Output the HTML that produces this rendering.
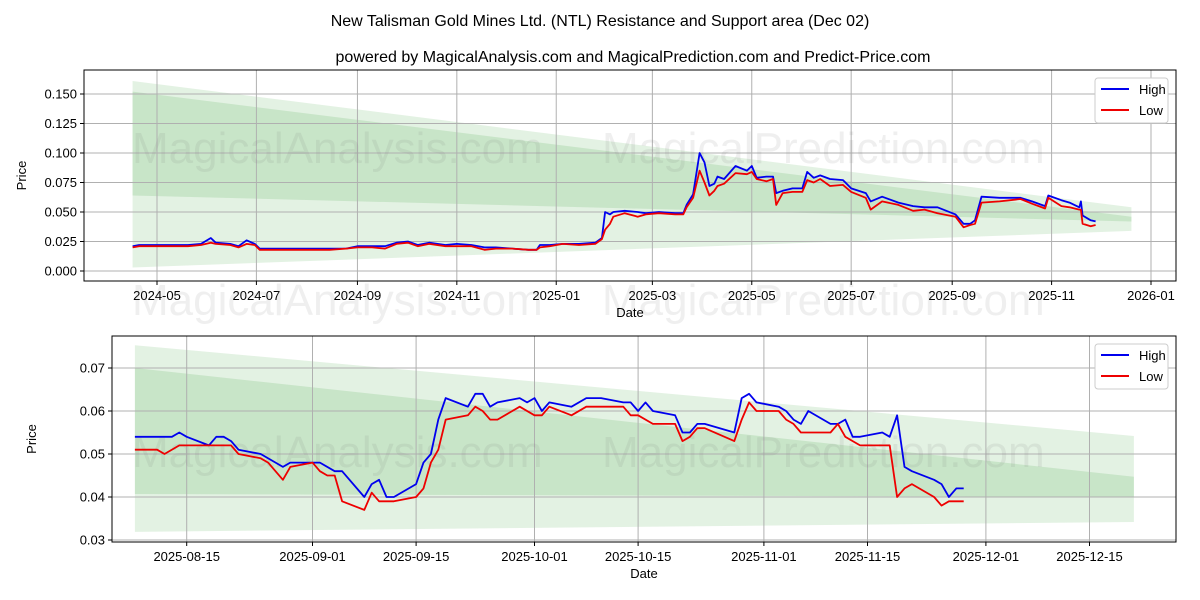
<!DOCTYPE html>
<html><head><meta charset="utf-8">
<style>
body{margin:0;background:#fff;}
svg{display:block;font-family:"Liberation Sans","DejaVu Sans",sans-serif;}
</style></head>
<body>
<svg id="chart" width="1200" height="600" viewBox="0 0 1200 600">
<rect width="1200" height="600" fill="#fff"/>
<text x="600" y="26" text-anchor="middle" font-size="16">New Talisman Gold Mines Ltd. (NTL) Resistance and Support area (Dec 02)</text>
<text x="633" y="62" text-anchor="middle" font-size="16">powered by MagicalAnalysis.com and MagicalPrediction.com and Predict-Price.com</text>
</svg>
<script>
// ---------- top chart data ----------
const topDates=["2024-04-16","2024-04-20","2024-04-25","2024-05-01","2024-05-10","2024-05-20","2024-05-28","2024-06-03","2024-06-06","2024-06-15","2024-06-20","2024-06-25","2024-06-30","2024-07-03","2024-07-15","2024-07-25","2024-08-05","2024-08-15","2024-08-25","2024-09-01","2024-09-10","2024-09-18","2024-09-25","2024-10-02","2024-10-08","2024-10-15","2024-10-25","2024-11-01","2024-11-10","2024-11-18","2024-11-25","2024-12-05","2024-12-15","2024-12-20","2024-12-22","2024-12-28","2025-01-05","2025-01-15","2025-01-25","2025-01-29","2025-01-31","2025-02-03","2025-02-05","2025-02-12","2025-02-20","2025-02-25","2025-03-05","2025-03-15","2025-03-20","2025-03-22","2025-03-26","2025-03-30","2025-04-02","2025-04-05","2025-04-08","2025-04-10","2025-04-14","2025-04-21","2025-04-28","2025-05-01","2025-05-04","2025-05-10","2025-05-14","2025-05-16","2025-05-20","2025-05-26","2025-06-01","2025-06-04","2025-06-08","2025-06-12","2025-06-18","2025-06-26","2025-07-01","2025-07-10","2025-07-13","2025-07-20","2025-07-30","2025-08-08","2025-08-15","2025-08-23","2025-09-03","2025-09-08","2025-09-12","2025-09-15","2025-09-19","2025-09-30","2025-10-13","2025-10-20","2025-10-28","2025-10-30","2025-11-07","2025-11-12","2025-11-18","2025-11-19","2025-11-20","2025-11-25","2025-11-28"];
const topHigh=[.021,.022,.022,.022,.022,.022,.023,.028,.024,.023,.021,.026,.023,.019,.019,.019,.019,.019,.019,.021,.021,.021,.024,.025,.022,.024,.022,.023,.022,.020,.020,.019,.018,.018,.022,.022,.023,.023,.024,.028,.050,.048,.050,.051,.050,.049,.050,.049,.049,.056,.065,.100,.092,.072,.074,.080,.078,.089,.085,.089,.079,.080,.080,.066,.068,.070,.070,.084,.079,.081,.078,.077,.070,.066,.059,.063,.058,.055,.054,.054,.048,.040,.040,.043,.063,.062,.062,.059,.055,.064,.060,.058,.054,.059,.047,.043,.042];
const topLow=[.020,.021,.021,.021,.021,.021,.022,.024,.023,.022,.020,.023,.022,.018,.018,.018,.018,.018,.019,.020,.020,.019,.023,.024,.021,.023,.021,.021,.021,.018,.019,.019,.018,.018,.020,.021,.023,.022,.023,.027,.035,.040,.046,.049,.046,.048,.049,.048,.048,.054,.062,.085,.075,.064,.068,.072,.074,.083,.082,.084,.078,.076,.078,.056,.066,.067,.067,.077,.075,.078,.072,.073,.067,.062,.052,.059,.056,.051,.052,.049,.046,.037,.039,.040,.058,.059,.061,.057,.053,.062,.055,.054,.052,.052,.040,.038,.039];
const topBandDates=["2024-04-16","2025-12-20"];
const topOuterTop=[.161,.054], topOuterBot=[.003,.034];
const topInnerTop=[.152,.046], topInnerBot=[.064,.042];
const topYTicks=[0,.025,.05,.075,.1,.125,.15];
const topYLabels=["0.000","0.025","0.050","0.075","0.100","0.125","0.150"];
const topXTicks=["2024-05-01","2024-07-01","2024-09-01","2024-11-01","2025-01-01","2025-03-01","2025-05-01","2025-07-01","2025-09-01","2025-11-01","2026-01-01"];
const topXLabels=["2024-05","2024-07","2024-09","2024-11","2025-01","2025-03","2025-05","2025-07","2025-09","2025-11","2026-01"];
// ---------- bottom chart data ----------
const botDatesH=["2025-08-08","2025-08-13","2025-08-14","2025-08-15","2025-08-18","2025-08-19","2025-08-20","2025-08-21","2025-08-22","2025-08-25","2025-08-28","2025-08-29","2025-09-02","2025-09-04","2025-09-05","2025-09-08","2025-09-09","2025-09-10","2025-09-11","2025-09-12","2025-09-15","2025-09-16","2025-09-17","2025-09-18","2025-09-19","2025-09-22","2025-09-23","2025-09-24","2025-09-25","2025-09-26","2025-09-29","2025-09-30","2025-10-01","2025-10-02","2025-10-03","2025-10-06","2025-10-08","2025-10-10","2025-10-13","2025-10-14","2025-10-15","2025-10-16","2025-10-17","2025-10-20","2025-10-21","2025-10-22","2025-10-23","2025-10-24","2025-10-28","2025-10-29","2025-10-30","2025-10-31","2025-11-03","2025-11-04","2025-11-05","2025-11-06","2025-11-07","2025-11-10","2025-11-11","2025-11-12","2025-11-13","2025-11-14","2025-11-17","2025-11-18","2025-11-19","2025-11-20","2025-11-21","2025-11-24","2025-11-25","2025-11-26","2025-11-27","2025-11-28"];
const botHigh=[.054,.054,.055,.054,.052,.054,.054,.053,.051,.050,.047,.048,.048,.046,.046,.040,.043,.044,.040,.040,.043,.048,.050,.058,.063,.061,.064,.064,.061,.062,.063,.062,.063,.060,.062,.061,.063,.063,.062,.062,.060,.062,.060,.059,.055,.055,.057,.057,.055,.063,.064,.062,.061,.060,.058,.057,.060,.057,.057,.058,.054,.054,.055,.054,.059,.047,.046,.044,.043,.040,.042,.042];
const botDatesL=["2025-08-08","2025-08-11","2025-08-12","2025-08-14","2025-08-21","2025-08-22","2025-08-25","2025-08-26","2025-08-28","2025-08-29","2025-09-01","2025-09-02","2025-09-03","2025-09-04","2025-09-05","2025-09-08","2025-09-09","2025-09-10","2025-09-12","2025-09-15","2025-09-16","2025-09-17","2025-09-18","2025-09-19","2025-09-22","2025-09-23","2025-09-24","2025-09-25","2025-09-26","2025-09-29","2025-10-01","2025-10-02","2025-10-03","2025-10-06","2025-10-08","2025-10-13","2025-10-14","2025-10-15","2025-10-17","2025-10-20","2025-10-21","2025-10-22","2025-10-23","2025-10-24","2025-10-28","2025-10-29","2025-10-30","2025-10-31","2025-11-03","2025-11-04","2025-11-05","2025-11-06","2025-11-10","2025-11-11","2025-11-12","2025-11-13","2025-11-14","2025-11-18","2025-11-19","2025-11-20","2025-11-21","2025-11-24","2025-11-25","2025-11-26","2025-11-28"];
const botLow=[.051,.051,.050,.052,.052,.050,.049,.048,.044,.047,.048,.046,.045,.045,.039,.037,.041,.039,.039,.040,.042,.048,.051,.058,.059,.061,.060,.058,.058,.061,.059,.059,.061,.059,.061,.061,.059,.059,.057,.057,.053,.054,.056,.056,.053,.058,.062,.060,.060,.058,.057,.055,.055,.057,.054,.053,.052,.052,.040,.042,.043,.040,.038,.039,.039];
const botBandDates=["2025-08-08","2025-12-21"];
const botOuterTop=[.0753,.0542], botOuterBot=[.0319,.0342];
const botInnerTop=[.070,.0447], botInnerBot=[.0407,.0400];
const botYTicks=[.03,.04,.05,.06,.07];
const botYLabels=["0.03","0.04","0.05","0.06","0.07"];
const botXTicks=["2025-08-15","2025-09-01","2025-09-15","2025-10-01","2025-10-15","2025-11-01","2025-11-15","2025-12-01","2025-12-15"];

const NS="http://www.w3.org/2000/svg";
const svg=document.getElementById('chart');
function mk(tag,attrs,parent){const e=document.createElementNS(NS,tag);for(const k in attrs)e.setAttribute(k,attrs[k]);(parent||svg).appendChild(e);return e;}
function day(s){return Date.UTC(+s.slice(0,4),+s.slice(5,7)-1,+s.slice(8,10))/86400000;}

function drawPanel(cfg){
  const g=mk('g',{});
  
  
  const X=d=>cfg.x0+(day(d)-day(cfg.xRef))*cfg.pxDay;
  const Y=v=>cfg.y0-(v-cfg.v0)*cfg.pxVal;
  const band=(top,bot,fill,nm)=>{
    const xa=X(cfg.bandDates[0]),xb=X(cfg.bandDates[1]);
    const p=mk('polygon',{points:`${xa},${Y(top[0])} ${xb},${Y(top[1])} ${xb},${Y(bot[1])} ${xa},${Y(bot[0])}`,fill:fill},g);
    
    
  };
  band(cfg.outerTop,cfg.outerBot,'rgba(60,160,60,0.14)','outer-band');
  band(cfg.innerTop,cfg.innerBot,'rgba(60,160,60,0.16)','inner-band');
  cfg.yTicks.forEach((v,i)=>{
    const y=Y(v);
    mk('line',{x1:cfg.L,x2:cfg.R,y1:y,y2:y,stroke:'#b0b0b0','stroke-width':1},g);
    mk('line',{x1:cfg.L-4,x2:cfg.L,y1:y,y2:y,stroke:'#000'},g);
    const t=mk('text',{x:cfg.L-7,y:y+4.5,'text-anchor':'end','font-size':13},g);
    t.textContent=cfg.yLabels[i];
    
    
  });
  cfg.xTicks.forEach((d,i)=>{
    const x=X(d);
    mk('line',{x1:x,x2:x,y1:cfg.T,y2:cfg.B,stroke:'#b0b0b0','stroke-width':1},g);
    mk('line',{x1:x,x2:x,y1:cfg.B,y2:cfg.B+4,stroke:'#000'},g);
    const t=mk('text',{x:x,y:cfg.B+19,'text-anchor':'middle','font-size':13},g);
    t.textContent=cfg.xLabels[i];
    
    
  });
  cfg.wm.forEach(w=>{
    const t=mk('text',{x:w[0],y:w[1],'font-size':44,fill:'rgba(120,120,120,0.12)'},g);
    t.textContent=w[2];
    
    
  });
  const line=(dates,vals,color,nm)=>{
    const pts=dates.map((d,i)=>X(d).toFixed(1)+','+Y(vals[i]).toFixed(1)).join(' ');
    const p=mk('polyline',{points:pts,fill:'none',stroke:color,'stroke-width':1.8,'stroke-linejoin':'round'},g);
    
    
  };
  line(cfg.hDates,cfg.high,'#0000ee','high-line');
  line(cfg.lDates,cfg.low,'#ee0000','low-line');
  mk('rect',{x:cfg.L,y:cfg.T,width:cfg.R-cfg.L,height:cfg.B-cfg.T,fill:'none',stroke:'#000','stroke-width':1},g);
  const xt=mk('text',{x:(cfg.L+cfg.R)/2,y:cfg.B+36,'text-anchor':'middle','font-size':13},g);
  xt.textContent='Date';
  
  
  const cy=(cfg.T+cfg.B)/2;
  const yt=mk('text',{x:cfg.yTitleX,y:cy,'text-anchor':'middle','font-size':13,transform:`rotate(-90 ${cfg.yTitleX} ${cy})`},g);
  yt.textContent='Price';
  
  
  const lg=mk('g',{},g);
  
  
  const ly=cfg.T+8;
  mk('rect',{x:1095,y:ly,width:73,height:45,rx:3,fill:'#fff',stroke:'#ccc'},lg);
  [['High','#0000ee'],['Low','#ee0000']].forEach((e,i)=>{
    const yy=ly+11+i*21;
    mk('line',{x1:1101,x2:1129,y1:yy,y2:yy,stroke:e[1],'stroke-width':2},lg);
    const t=mk('text',{x:1139,y:yy+5,'font-size':13},lg);
    t.textContent=e[0];
    
    
  });
}

drawPanel({name:'top-panel',L:84,R:1176,T:70,B:281,x0:157,xRef:'2024-05-01',pxDay:1.6295,y0:271,v0:0,pxVal:1180,
  bandDates:topBandDates,outerTop:topOuterTop,outerBot:topOuterBot,innerTop:topInnerTop,innerBot:topInnerBot,
  yTicks:topYTicks,yLabels:topYLabels,xTicks:topXTicks,xLabels:topXLabels,
  hDates:topDates,high:topHigh,lDates:topDates,low:topLow,yTitleX:26,
  wm:[[132,163,'MagicalAnalysis.com'],[602,163,'MagicalPrediction.com'],[132,315,'MagicalAnalysis.com'],[602,315,'MagicalPrediction.com']]});
drawPanel({name:'bottom-panel',L:112,R:1176,T:336,B:542,x0:186.7,xRef:'2025-08-15',pxDay:7.40,y0:540,v0:.03,pxVal:4300,
  bandDates:botBandDates,outerTop:botOuterTop,outerBot:botOuterBot,innerTop:botInnerTop,innerBot:botInnerBot,
  yTicks:botYTicks,yLabels:botYLabels,xTicks:botXTicks,xLabels:botXTicks,
  hDates:botDatesH,high:botHigh,lDates:botDatesL,low:botLow,yTitleX:36,
  wm:[[132,467,'MagicalAnalysis.com'],[602,467,'MagicalPrediction.com']]});
</script>
</body></html>
